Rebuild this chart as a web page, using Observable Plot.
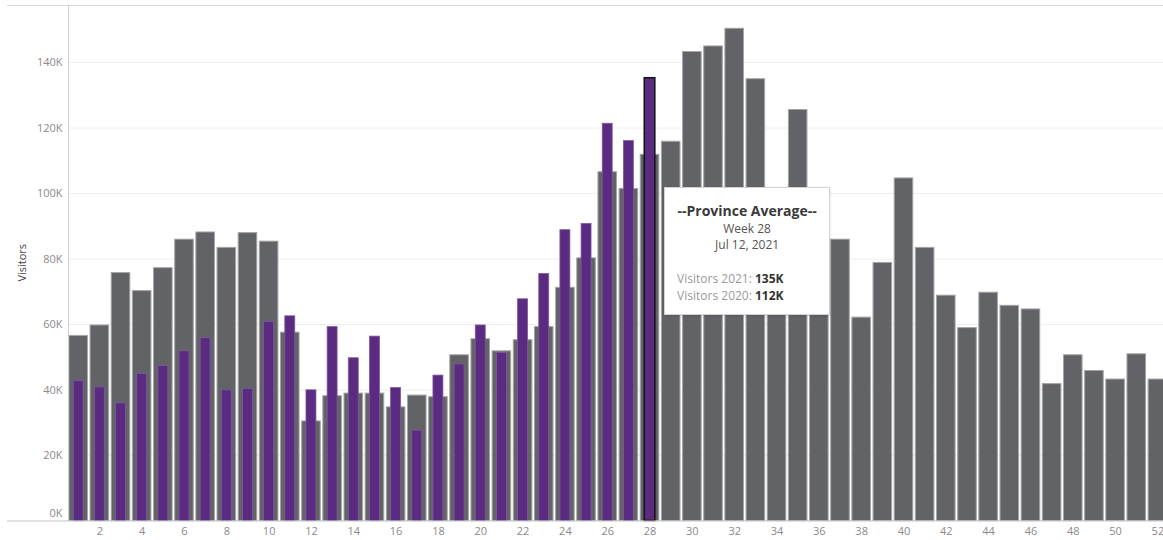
<!DOCTYPE html>
<html>
<head>
<meta charset="utf-8">
<script src="https://cdn.jsdelivr.net/npm/d3@7"></script>
<script src="https://cdn.jsdelivr.net/npm/@observablehq/plot@0.6"></script>
<style>
  body { margin: 0; background: #fff; overflow: hidden; font-family: "Open Sans", sans-serif; }
  #wrap { position: relative; width: 1163px; height: 540px; }
  .tip {
    position: absolute; box-sizing: border-box; width: 166px; height: 128px;
    background: #fff; border: 1px solid #d2d2d2; box-shadow: 0 1px 3px rgba(0,0,0,0.12);
    color: #333;
  }
  .tip div { position: absolute; left: 0; right: 0; white-space: nowrap; }
  .tip .title { top: 13px; text-align: center; font-weight: 700; font-size: 14px; color: #3a3a3a; }
  .tip .sub { text-align: center; font-size: 12px; color: #555; }
  .tip .row { left: 12px; font-size: 12px; color: #9a9a9a; }
  .tip .row b { color: #333; font-weight: 700; }
</style>
</head>
<body>
<div id="wrap"></div>
<script>
// Weekly visitors, province average
const weeks = d3.range(1, 53);
const visitors2020 = [
  56500, 59700, 75700, 70200, 77200, 85900, 88100, 83400, 87900, 85300,
  57500, 30400, 38100, 38900, 38900, 34700, 38300, 37800, 50600, 55500,
  51800, 55200, 59200, 71200, 80200, 106500, 101400, 111800, 115800, 143200,
  144900, 150300, 134900, 96000, 125500, 90000, 85900, 62100, 78800, 104600,
  83400, 68800, 58900, 69700, 65700, 64600, 41800, 50600, 45800, 43200,
  50900, 43200
];
const visitors2021 = [
  42700, 40800, 35900, 44900, 47300, 51800, 55800, 39900, 40300, 60800,
  62500, 39900, 59200, 49700, 56300, 40600, 27600, 44400, 47800, 59700,
  51300, 67700, 75400, 88800, 90700, 121300, 116000, 135200
];
const yTicks = [0, 20000, 40000, 60000, 80000, 100000, 120000, 140000];
const xTickWeeks = weeks.filter((w) => w % 2 === 0);

// Highlighted week shown in the tooltip
const focusWeek = 28;
const focusDate = "Jul 12, 2021";
const tipTitle = "--Province Average--";

const rows2020 = weeks.map((w, i) => ({week: w, visitors: visitors2020[i]}));
const rows2021 = visitors2021.map((v, i) => ({week: weeks[i], visitors: v}));

const fmtK = (d) => `${Math.round(d / 1000)}K`;
const tickColor = "#8a8a8a";

// Axis lines and the rotated axis title
const frameLines = (index, scales, values, dims) => {
  const g = d3.create("svg:g");
  const y0 = scales.y(0);
  g.append("line")
    .attr("x1", 7).attr("x2", dims.width)
    .attr("y1", dims.marginTop + 0.5).attr("y2", dims.marginTop + 0.5)
    .attr("stroke", "#d9d9d9");
  g.append("line")
    .attr("x1", 7).attr("x2", dims.width)
    .attr("y1", y0 + 0.5).attr("y2", y0 + 0.5)
    .attr("stroke", "#c4c4c4");
  g.append("line")
    .attr("x1", dims.marginLeft + 0.5).attr("x2", dims.marginLeft + 0.5)
    .attr("y1", dims.marginTop).attr("y2", y0)
    .attr("stroke", "#cfcfcf");
  g.append("text")
    .attr("transform", `translate(22,${(dims.marginTop + y0) / 2}) rotate(-90)`)
    .attr("text-anchor", "middle")
    .attr("dy", "0.35em")
    .attr("font-size", 11)
    .attr("fill", "#444")
    .text("Visitors");
  return g.node();
};

const chart = Plot.plot({
  width: 1163,
  height: 540,
  marginLeft: 68,
  marginRight: 0,
  marginTop: 5,
  marginBottom: 20,
  style: {fontFamily: "'Open Sans', sans-serif", background: "#fff"},
  x: {type: "band", domain: weeks, range: [67.6, 1168], padding: 0, round: false},
  y: {domain: [0, 140000], range: [520.5, 62]},
  marks: [
    Plot.gridY(yTicks.filter((d) => d > 0), {stroke: "#eeeeee", strokeOpacity: 1}),
    Plot.barY(rows2020, {
      x: "week", y: "visitors",
      fill: "#626367", stroke: "#a4a4a7", strokeWidth: 1,
      insetLeft: 1.3, insetRight: 1.3
    }),
    Plot.barY(rows2021, {
      x: "week", y: "visitors",
      fill: "#5b2b82", stroke: "#7d5a9c", strokeWidth: 0.8,
      insetLeft: 5.6, insetRight: 5.6
    }),
    Plot.barY(rows2021.filter((d) => d.week === focusWeek), {
      x: "week", y: "visitors",
      fill: "none", stroke: "#111", strokeWidth: 1.5,
      insetLeft: 5.3, insetRight: 5.3
    }),
    frameLines,
    Plot.axisY(yTicks.filter((d) => d > 0), {
      tickSize: 0, tickPadding: 6, tickFormat: fmtK,
      fontSize: 11, fill: tickColor, label: null
    }),
    Plot.axisY([0], {
      tickSize: 0, tickPadding: 6, tickFormat: fmtK,
      fontSize: 11, fill: tickColor, label: null, dy: -8
    }),
    Plot.axisX(xTickWeeks, {
      tickSize: 0, tickPadding: 7,
      fontSize: 11, fill: tickColor, label: null
    })
  ]
});

const wrap = document.getElementById("wrap");
wrap.appendChild(chart);

// Tooltip for the highlighted week, anchored next to its bar
const xs = chart.scale("x");
const ys = chart.scale("y");
const fi = weeks.indexOf(focusWeek);
const tipLeft = xs.apply(focusWeek) + xs.bandwidth + 4;
const tipTop = ys.apply(101800);
const tip = document.createElement("div");
tip.className = "tip";
tip.style.left = `${tipLeft}px`;
tip.style.top = `${tipTop}px`;
tip.innerHTML = `
  <div class="title">${tipTitle}</div>
  <div class="sub" style="top:32px">Week ${focusWeek}</div>
  <div class="sub" style="top:48px">${focusDate}</div>
  <div class="row" style="top:82px">Visitors 2021: <b>${fmtK(visitors2021[fi])}</b></div>
  <div class="row" style="top:99px">Visitors 2020: <b>${fmtK(visitors2020[fi])}</b></div>`;
wrap.appendChild(tip);
</script>
</body>
</html>
